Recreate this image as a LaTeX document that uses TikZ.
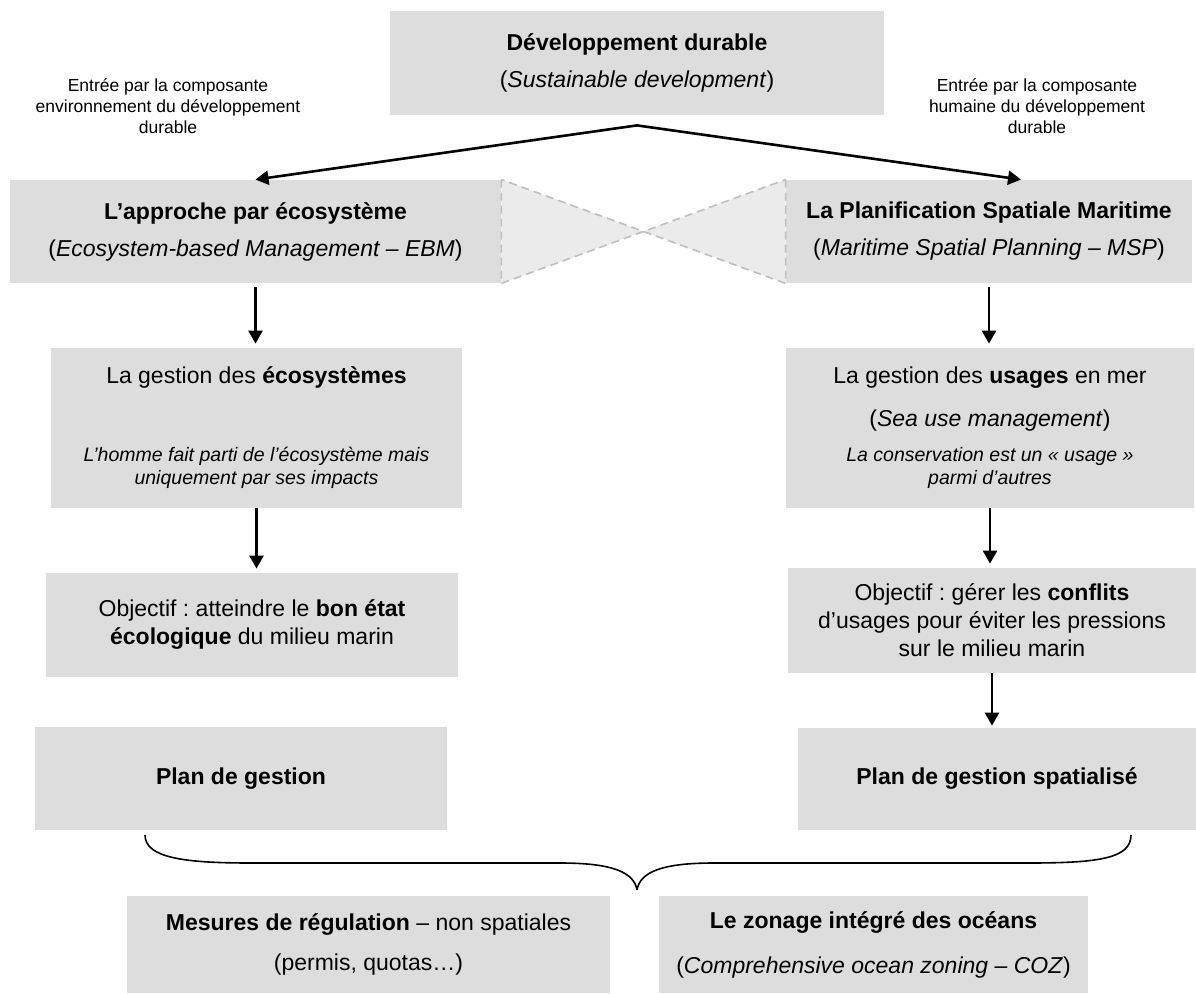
\documentclass[tikz,border=0pt]{standalone}
\usepackage{fontspec}
\setmainfont{Liberation Sans}
\usetikzlibrary{arrows.meta,calc}
\definecolor{grisboite}{HTML}{DDDDDD}
\definecolor{grisnoeud}{HTML}{EBEBEB}
\definecolor{grispointille}{HTML}{BFBFBF}
\newcommand{\notefont}{\fontsize{9.75}{11.5}\selectfont\itshape}
\frenchspacing

\begin{document}
\begin{tikzpicture}[x=0.5pt,y=-0.5pt,
  box/.style={fill=grisboite,inner sep=0pt,align=flush center,font=\fontsize{11.5}{14}\selectfont},
  lab/.style={align=center,font=\fontsize{8.75}{10.5}\selectfont},
  fleche/.style={-{Triangle[width=7pt,length=6.5pt]},line width=1.3pt},
  noeud/.style={fill=grisnoeud,draw=grispointille,line width=0.8pt,dash pattern=on 4pt off 2.5pt},
  accolade/.style={line width=0.8pt}
]
  \useasboundingbox (0,0) rectangle (1196,994);

  \node[box,text width=247pt,minimum height=52pt] (dd) at (637,63)
    {\textbf{Développement durable}\\[4.5pt](\textit{Sustainable development})};
  \node[lab] (entree1) at (168,106)
    {Entrée par la composante\\environnement du développement\\durable};
  \node[lab] (entree2) at (1037,106)
    {Entrée par la composante\\humaine du développement\\durable};

  % les deux approches
  \node[box,text width=245.5pt,minimum height=51.5pt] (ebm) at (255.5,231.5)
    {\textbf{L’approche par écosystème}\\[4.5pt](\textit{Ecosystem-based Management – EBM})};
  \node[box,text width=203pt,minimum height=51.5pt] (msp) at (989,231.5)
    {\textbf{La Planification Spatiale Maritime}\\[4.5pt](\textit{Maritime Spatial Planning – MSP})};
  \coordinate (centre) at ($(ebm.east)!0.5!(msp.west)$);
  \draw[noeud] (ebm.north east) -- (ebm.south east) -- (centre) -- cycle;
  \draw[noeud] (msp.north west) -- (msp.south west) -- (centre) -- cycle;

  \node[box,text width=205.5pt,minimum height=80pt] (geco) at (256.5,428)
    {La gestion des \textbf{écosystèmes}\par\vspace{27.5pt}
     {\notefont L’homme fait parti de l’écosystème mais\\uniquement par ses impacts\par}};
  \node[box,text width=204pt,minimum height=80pt] (gusa) at (990,428)
    {La gestion des \textbf{usages} en mer\\[7.5pt](\textit{Sea use management})\par\vspace{6pt}
     {\notefont La conservation est un «~usage~»\\parmi d’autres\par}};

  \node[box,text width=206pt,minimum height=52pt] (obj1) at (252,625)
    {Objectif~: atteindre le \textbf{bon état}\\\textbf{écologique} du milieu marin};
  \node[box,text width=204pt,minimum height=52.5pt] (obj2) at (992,620.5)
    {Objectif~: gérer les \textbf{conflits}\\d’usages pour éviter les pressions\\sur le milieu marin};

  \node[box,text width=206pt,minimum height=51.5pt] (plan1) at (241,778.5) {\textbf{Plan de gestion}};
  \node[box,text width=199pt,minimum height=51pt] (plan2) at (997,779) {\textbf{Plan de gestion spatialisé}};

  \node[box,text width=241.5pt,minimum height=48.5pt] (mes) at (368.5,944.5)
    {\textbf{Mesures de régulation} – non spatiales\\[6pt](permis, quotas…)};
  \node[box,text width=214.5pt,minimum height=48.5pt] (coz) at (873.5,944.5)
    {\textbf{Le zonage intégré des océans}\\[8.5pt](\textit{Comprehensive ocean zoning – COZ})};

  % fleches
  \coordinate (sommet) at ([yshift=-5pt]dd.south);
  \draw[fleche] (sommet) -- (ebm.north);
  \draw[fleche] (sommet) -- ([xshift=16pt]msp.north);
  \draw[fleche,shorten <=2pt,shorten >=2pt] (ebm.south) -- (ebm.south |- geco.north);
  \draw[fleche,shorten <=2pt,shorten >=2pt] (msp.south) -- (msp.south |- gusa.north);
  \draw[fleche,shorten >=2pt] (geco.south) -- (geco.south |- obj1.north);
  \draw[fleche,shorten >=2pt] (gusa.south) -- (gusa.south |- obj2.north);
  \draw[fleche,shorten >=1pt] (obj2.south) -- (obj2.south |- plan2.north);

  % accolade
  \draw[accolade] (145,835) .. controls (145,858) and (185,863) .. (250,863) -- (560,863)
    .. controls (612,863) and (634,872) .. (637,890);
  \draw[accolade] (637,890) .. controls (640,872) and (662,863) .. (714,863) -- (1030,863)
    .. controls (1100,863) and (1131,858) .. (1131,835);
\end{tikzpicture}
\end{document}
